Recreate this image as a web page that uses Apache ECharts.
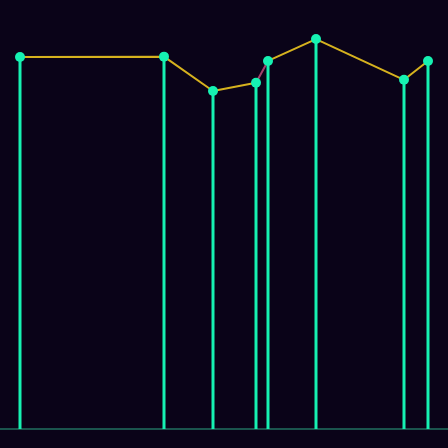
<!DOCTYPE html>
<html>
<head>
<meta charset="utf-8">
<script src="https://cdn.jsdelivr.net/npm/echarts@6/dist/echarts.min.js"></script>
<style>
  html, body { margin: 0; padding: 0; background: #0a0318; }
  #container { width: 448px; height: 448px; }
</style>
</head>
<body>
<div id="container"></div>
<script>
    // x positions (days) and values
    var days = [5, 41, 53.25, 64, 67, 79, 101, 107];
    var values = [86.7, 86.8, 78.8, 80.7, 85.8, 90.9, 81.4, 85.8];

    var points = [];
    for (var i = 0; i < days.length; i++) {
        points.push([days[i], values[i]]);
    }

    var dom = document.getElementById("container");
    var myChart = echarts.init(dom);
    var option = {
        backgroundColor: '#0a0318',
        animation: false,
        grid: { left: 0, right: 0, top: 0, bottom: 19 },
        xAxis: {
            type: 'value',
            min: 0,
            max: 112,
            axisLine: { show: true, onZero: false, lineStyle: { color: '#22705f', width: 1.5 } },
            axisTick: { show: false },
            axisLabel: { show: false },
            splitLine: { show: false }
        },
        yAxis: {
            type: 'value',
            min: 0,
            max: 100,
            axisLine: { show: false },
            axisTick: { show: false },
            axisLabel: { show: false },
            splitLine: { show: false }
        },
        visualMap: {
            show: false,
            type: 'piecewise',
            dimension: 0,
            seriesIndex: 1,
            pieces: [
                { lte: 64, color: '#d6b21e' },
                { gt: 64, lte: 67, color: '#a3406b' },
                { gt: 67, color: '#d6b21e' }
            ]
        },
        series: [
            {
                type: 'bar',
                data: points,
                barWidth: 3,
                itemStyle: { color: '#16f2b2' }
            },
            {
                type: 'line',
                data: points,
                showSymbol: false,
                lineStyle: { width: 2 },
                z: 3
            },
            {
                type: 'scatter',
                data: points,
                symbolSize: 10,
                itemStyle: { color: '#16f2b2', opacity: 1 },
                z: 4
            }
        ]
    };
    myChart.setOption(option);
</script>
</body>
</html>
